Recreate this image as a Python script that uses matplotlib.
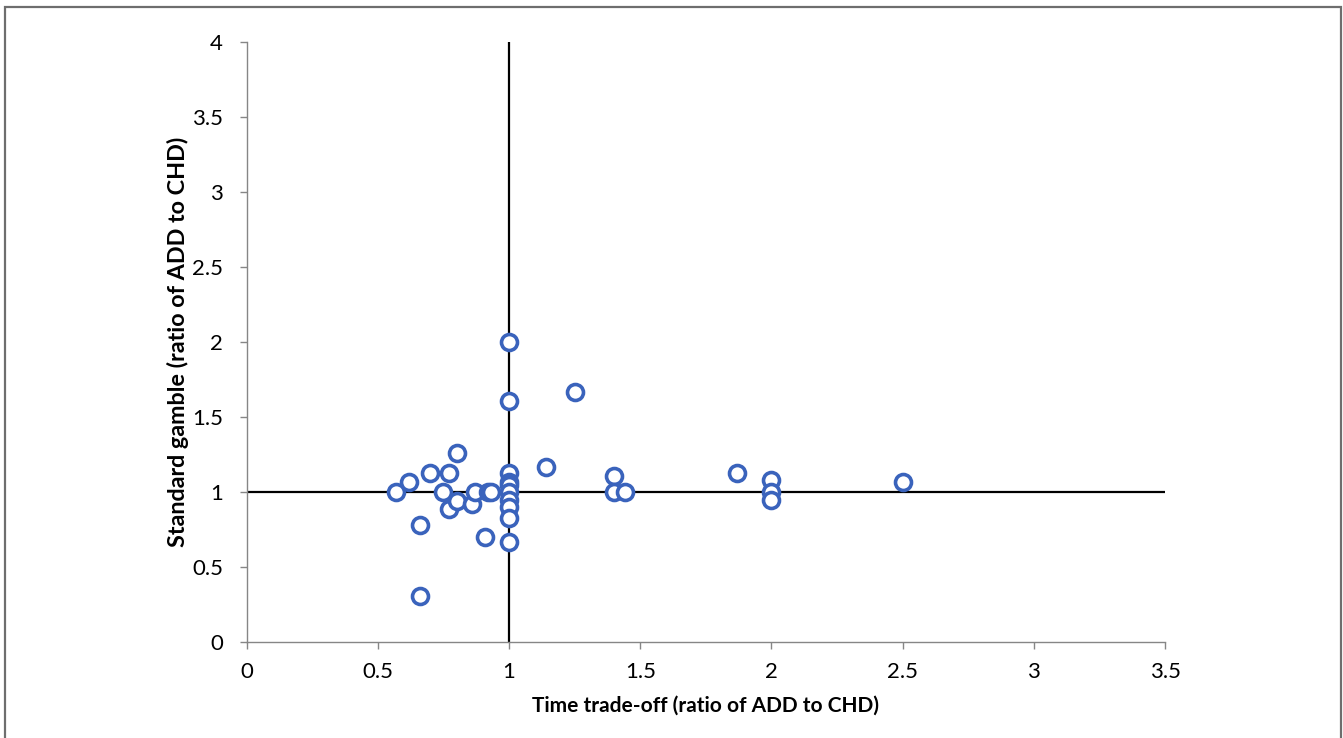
import numpy as np
import matplotlib.pyplot as plt
from matplotlib.patches import Rectangle

# Time trade-off (x) vs standard gamble (y), ratios of ADD to CHD.
tto = [0.57, 0.62, 0.70, 0.80, 0.77, 0.75, 0.77, 0.80, 0.86, 0.87,
       0.92, 0.93, 0.66, 0.91, 0.66,
       1.0, 1.0, 1.0, 1.0, 1.0, 1.0, 1.0, 1.0, 1.0, 1.0,
       1.14, 1.25, 1.40, 1.40, 1.44, 1.87, 2.0, 2.0, 2.0, 2.5]
sg = [1.0, 1.07, 1.13, 1.26, 1.13, 1.0, 0.89, 0.94, 0.92, 1.0,
      1.0, 1.0, 0.78, 0.70, 0.31,
      2.0, 1.61, 1.13, 1.07, 1.05, 1.0, 0.95, 0.90, 0.83, 0.67,
      1.17, 1.67, 1.11, 1.0, 1.0, 1.13, 1.08, 1.0, 0.95, 1.07]

xticks = [0, 0.5, 1, 1.5, 2, 2.5, 3, 3.5]
yticks = [0, 0.5, 1, 1.5, 2, 2.5, 3, 3.5, 4]

plt.rcParams['font.family'] = ['Lato', 'DejaVu Sans']

fig = plt.figure(figsize=(13.43, 7.38), dpi=100)
ax = fig.add_axes([0.1837, 0.1297, 0.6838, 0.8133])

# Reference lines at ratio 1.
ax.axvline(1, color='black', lw=1.6, zorder=2)
ax.axhline(1, color='black', lw=1.6, zorder=2)

ax.plot(tto, sg, 'o', ms=11.5, mfc='white', mec='#3A63BC', mew=2.6,
        zorder=3, clip_on=False)

ax.set_xlim(0, 3.5)
ax.set_ylim(0, 4)
ax.set_xticks(xticks)
ax.set_yticks(yticks)
ax.set_xticklabels([f'{v:g}' for v in xticks])
ax.set_yticklabels([f'{v:g}' for v in yticks])

for side in ['top', 'right']:
    ax.spines[side].set_visible(False)
for side in ['left', 'bottom']:
    ax.spines[side].set_color('#868686')
    ax.spines[side].set_linewidth(1.0)
ax.tick_params(direction='out', length=5, width=1.0, color='#868686',
               labelsize=16)
ax.tick_params(axis='x', pad=9)
ax.tick_params(axis='y', pad=12)

ax.set_xlabel('Time trade-off (ratio of ADD to CHD)', fontsize=15,
              fontweight='bold', labelpad=10)
ax.set_ylabel('Standard gamble (ratio of ADD to CHD)', fontsize=16.8,
              fontweight='bold', labelpad=2)

# Outer frame around the figure.
fig.patches.append(Rectangle((5 / 1343, -0.05), 1336 / 1343, 1.05 - 7 / 738,
                             transform=fig.transFigure, fill=False,
                             ec='#6E6E6E', lw=1.6))

fig.savefig('out.png', dpi=100)
